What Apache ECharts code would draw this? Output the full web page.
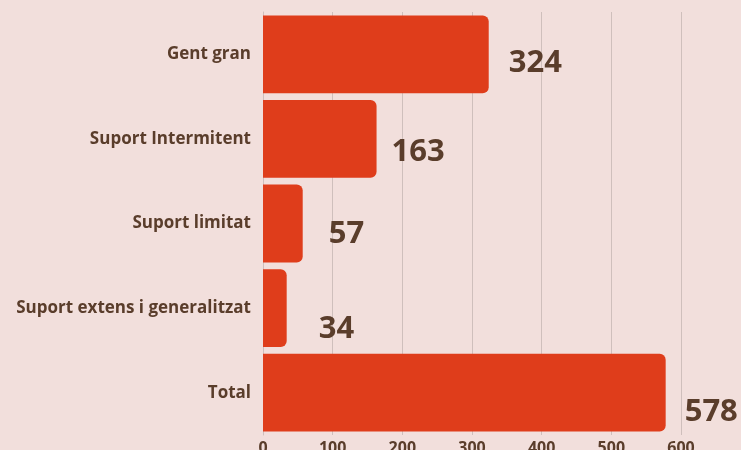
<!DOCTYPE html>
<html>
<head>
<meta charset="utf-8">
<script src="https://cdn.jsdelivr.net/npm/echarts@6/dist/echarts.min.js"></script>
<style>
  html, body { margin: 0; padding: 0; background: #f2dfdc; }
  #chart { width: 741px; height: 450px; }
</style>
</head>
<body>
<div id="chart"></div>
<script>
// dades
const categories = ['Gent gran', 'Suport Intermitent', 'Suport limitat', 'Suport extens i generalitzat', 'Total'];
const values = [324, 163, 57, 34, 578];
const labelOffsets = [[15, 9], [10, 13], [21, 11], [27, 21], [14, 19]];

const textColor = '#5a3d2b';
const fontFamily = '"Open Sans", "Noto Sans", sans-serif';

const chart = echarts.init(document.getElementById('chart'));
chart.setOption({
    backgroundColor: '#f2dfdc',
    animation: false,
    grid: { left: 263, right: 60, top: 12, bottom: 15, containLabel: false, outerBoundsMode: 'none' },
    xAxis: {
        type: 'value',
        min: 0,
        max: 600,
        interval: 100,
        axisLine: { show: false },
        axisTick: { show: false },
        splitLine: { lineStyle: { color: '#cfbfbc', width: 1 } },
        axisLabel: {
            color: textColor, fontFamily: fontFamily, fontWeight: 'bold',
            fontSize: 16, margin: 5
        }
    },
    yAxis: {
        type: 'category',
        inverse: true,
        data: categories,
        axisLine: { show: true, lineStyle: { color: '#cfbfbc' } },
        axisTick: { show: false },
        axisLabel: {
            color: textColor, fontFamily: fontFamily, fontWeight: 'bold',
            fontSize: 17, margin: 12
        }
    },
    series: [{
        type: 'bar',
        barCategoryGap: '8%',
        data: values.map((v, i) => ({
            value: v,
            label: { offset: labelOffsets[i] }
        })),
        itemStyle: { color: '#df3d1b', borderRadius: [0, 6, 6, 0] },
        label: {
            show: true,
            position: 'right',
            color: textColor,
            fontFamily: fontFamily,
            fontWeight: 'bold',
            fontSize: 31
        }
    }]
});
</script>
</body>
</html>
